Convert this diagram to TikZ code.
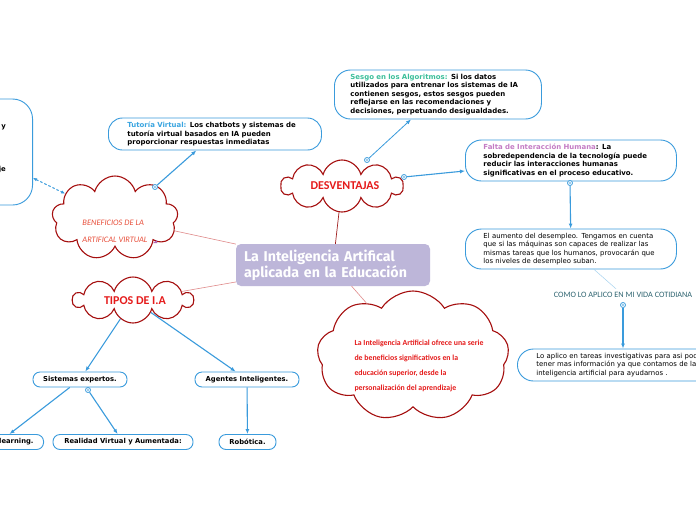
\documentclass[tikz,border=0pt]{standalone}
\usepackage{fontspec}
\setmainfont{DejaVu Sans}
\newfontfamily\cloudfont{Carlito}
\newfontfamily\hubfont{Fira Sans}
\usetikzlibrary{shapes.symbols,arrows.meta}
\definecolor{mapblue}{HTML}{3A9BDC}
\definecolor{clouddark}{HTML}{A50F0F}
\definecolor{cloudred}{HTML}{E51B1B}
\definecolor{benefred}{HTML}{E8503C}
\definecolor{linkpink}{HTML}{E08A8A}
\definecolor{linkdark}{HTML}{A02020}
\definecolor{hubfill}{HTML}{BDB6D9}
\definecolor{tutorblue}{HTML}{3AA5E0}
\definecolor{sesgoteal}{HTML}{3CBF9A}
\definecolor{faltapink}{HTML}{C47BC4}
\definecolor{comoteal}{HTML}{2E6470}

\begin{document}
\begin{tikzpicture}[x=1pt,y=-1pt,
    note/.style={draw=mapblue,line width=.9pt,fill=white,align=left,inner ysep=0pt,
      text width=175pt,font=\fontsize{6.95}{8.6}\selectfont\bfseries},
    plain/.style={note,font=\fontsize{6.9}{8.4}\selectfont},
    tag/.style={draw=mapblue,line width=.9pt,rounded corners=7pt,fill=white,minimum height=15pt,
      inner ysep=0pt,inner xsep=9pt,font=\fontsize{6.8}{8}\selectfont\bfseries},
    puff/.style={cloud,draw=clouddark,line width=1.1pt,fill=white,cloud ignores aspect,inner sep=0pt},
    cloudtext/.style={text=cloudred,font=\cloudfont\bfseries\fontsize{12}{14}\selectfont},
    link/.style={draw=linkpink,line width=.6pt},
    arr/.style={draw=mapblue,line width=1.1pt,-{Latex[length=5pt,width=4pt]}},
    knob/.style={circle,draw=mapblue,line width=.8pt,fill=white,minimum size=5pt,inner sep=0pt,
      path picture={\fill[mapblue] (path picture bounding box.center) circle (.9pt);}}
  ]
  \path[use as bounding box,fill=white] (0,0) rectangle (696,520);

  % central topic
  \node[fill=hubfill,rounded corners=5pt,minimum height=42pt,text width=178pt,inner xsep=8pt,
    align=left,text=white,font=\hubfont\bfseries\fontsize{14.2}{16}\selectfont] (hub) at (333,265)
    {La Inteligencia Artifical\\aplicada en la Educación};

  % clouds
  \node[puff,cloud puffs=9,minimum width=126pt,minimum height=84pt] (benef) at (115,218) {};
  \node[align=left,text=benefred,font=\cloudfont\itshape\fontsize{8.4}{17}\selectfont] (beneftext) at (115,231)
    {BENEFICIOS DE LA\\ARTIFICAL VIRTUAL};
  \fill[violet!60] (153,243) -- (157,243) -- (157,240) -- cycle;
  \node[puff,cloud puffs=10,minimum width=122pt,minimum height=52pt] (desv) at (342,186) {};
  \node[cloudtext] (desvtext) at (345,186) {DESVENTAJAS};
  \node[puff,cloud puffs=10,minimum width=120pt,minimum height=46pt] (tipos) at (133,300) {};
  \node[cloudtext] (tipostext) at (135,301) {TIPOS DE I.A};
  \node[puff,cloud puffs=9,cloud puff arc=115,minimum width=192pt,minimum height=130pt] (ofrece) at (413,356) {};
  \node[align=left,text=cloudred,font=\cloudfont\bfseries\fontsize{7.8}{14.8}\selectfont] (ofrecetext) at (419,366)
    {La Inteligencia Artificial ofrece una serie\\de beneficios significativos en la\\educación superior, desde la\\personalización del aprendizaje};

  % notes
  \node[note,anchor=west,rounded corners=14pt,minimum height=32pt,inner xsep=19pt] (tutor) at (108,134)
    {\textcolor{tutorblue}{Tutoría Virtual:} Los chatbots y sistemas de\\tutoría virtual basados en IA pueden\\proporcionar respuestas inmediatas};
  \node[note,anchor=west,rounded corners=16pt,minimum height=49pt,inner xsep=16pt] (sesgo) at (334,94.5)
    {\textcolor{sesgoteal}{Sesgo en los Algoritmos:} Si los datos\\utilizados para entrenar los sistemas de IA\\contienen sesgos, estos sesgos pueden\\reflejarse en las recomendaciones y\\decisiones, perpetuando desigualdades.};
  \node[note,anchor=west,rounded corners=16pt,minimum height=41pt,inner xsep=18pt] (falta) at (465,160.5)
    {\textcolor{faltapink}{Falta de Interacción Humana}: La\\sobredependencia de la tecnología puede\\reducir las interacciones humanas\\significativas en el proceso educativo.};
  \node[plain,anchor=west,rounded corners=16pt,minimum height=40pt,inner xsep=18pt] (aum) at (465,249)
    {El aumento del desempleo. Tengamos en cuenta\\que si las máquinas son capaces de realizar las\\mismas tareas que los humanos, provocarán que\\los niveles de desempleo suban.};
  \node[text=comoteal,font=\cloudfont\fontsize{8.2}{9}\selectfont] (como) at (623,295)
    {COMO LO APLICO EN MI VIDA COTIDIANA};
  \node[plain,anchor=west,rounded corners=16pt,minimum height=32pt,inner xsep=19pt,text width=200pt] (aplico) at (517,365)
    {Lo aplico en tareas investigativas para asi poder\\tener mas información ya que contamos de la\\inteligencia artificial para ayudarnos .};
  \node[note,anchor=east,rounded corners=20pt,minimum height=106pt,text width=110pt,inner xsep=10pt] (leftbox) at (33,152) {};
  \node[anchor=east,inner sep=0pt,font=\fontsize{6.9}{8}\selectfont\bfseries] (lefty) at (6,127) {y};
  \node[anchor=east,inner sep=0pt,font=\fontsize{6.9}{8}\selectfont\bfseries] (leftje) at (6,170) {je};
  \coordinate (leftend) at (33,178);

  % types
  \node[tag,minimum width=94pt] (sist) at (80,379.5) {Sistemas expertos.};
  \node[tag,minimum width=104pt] (agent) at (247,379.5) {Agentes Inteligentes.};
  \node[tag,anchor=east,inner xsep=10pt] (learn) at (44,442) {Machine learning.};
  \node[tag,minimum width=140pt] (real) at (123,442) {Realidad Virtual y Aumentada:};
  \node[tag,minimum width=57pt] (robot) at (247.5,442) {Robótica.};

  % knobs
  \node[knob] (knobT) at (155,187) {};
  \node[knob] (knobS) at (367,160) {};
  \node[knob] (knobF) at (404,177) {};
  \node[knob] (knobA) at (570,183) {};
  \node[knob] (knobC) at (623,305) {};
  \node[knob] (knobR) at (88,390) {};

  % links from the centre
  \draw[draw=linkdark,line width=.7pt] (hub) -- (desv);
  \draw[link] (hub) -- (benef);
  \draw[link] (hub) -- (tipos);
  \draw[link] (hub) -- (ofrece);

  % arrows
  \draw[arr] (knobT) -- (tutor);
  \draw[arr,line width=.8pt] (knobS) -- (sesgo);
  \draw[arr] (knobF) -- (falta);
  \draw[arr] (knobA) -- (aum);
  \draw[draw=mapblue!45,line width=.5pt] (aum) -- (como);
  \draw[arr] (knobC) -- (knobC |- aplico.north);
  \draw[draw=mapblue,line width=1pt,dash pattern=on 2.5pt off 2pt,
    {Latex[length=4pt,width=3.5pt]}-{Latex[length=4pt,width=3.5pt]}] (leftend) -- (benef);
  \draw[arr] (tipos) -- (sist);
  \draw[arr] (tipos) -- (agent);
  \draw[arr] (sist) -- (learn);
  \draw[arr] (knobR) -- (real);
  \draw[arr] (agent) -- (robot);
\end{tikzpicture}
\end{document}
